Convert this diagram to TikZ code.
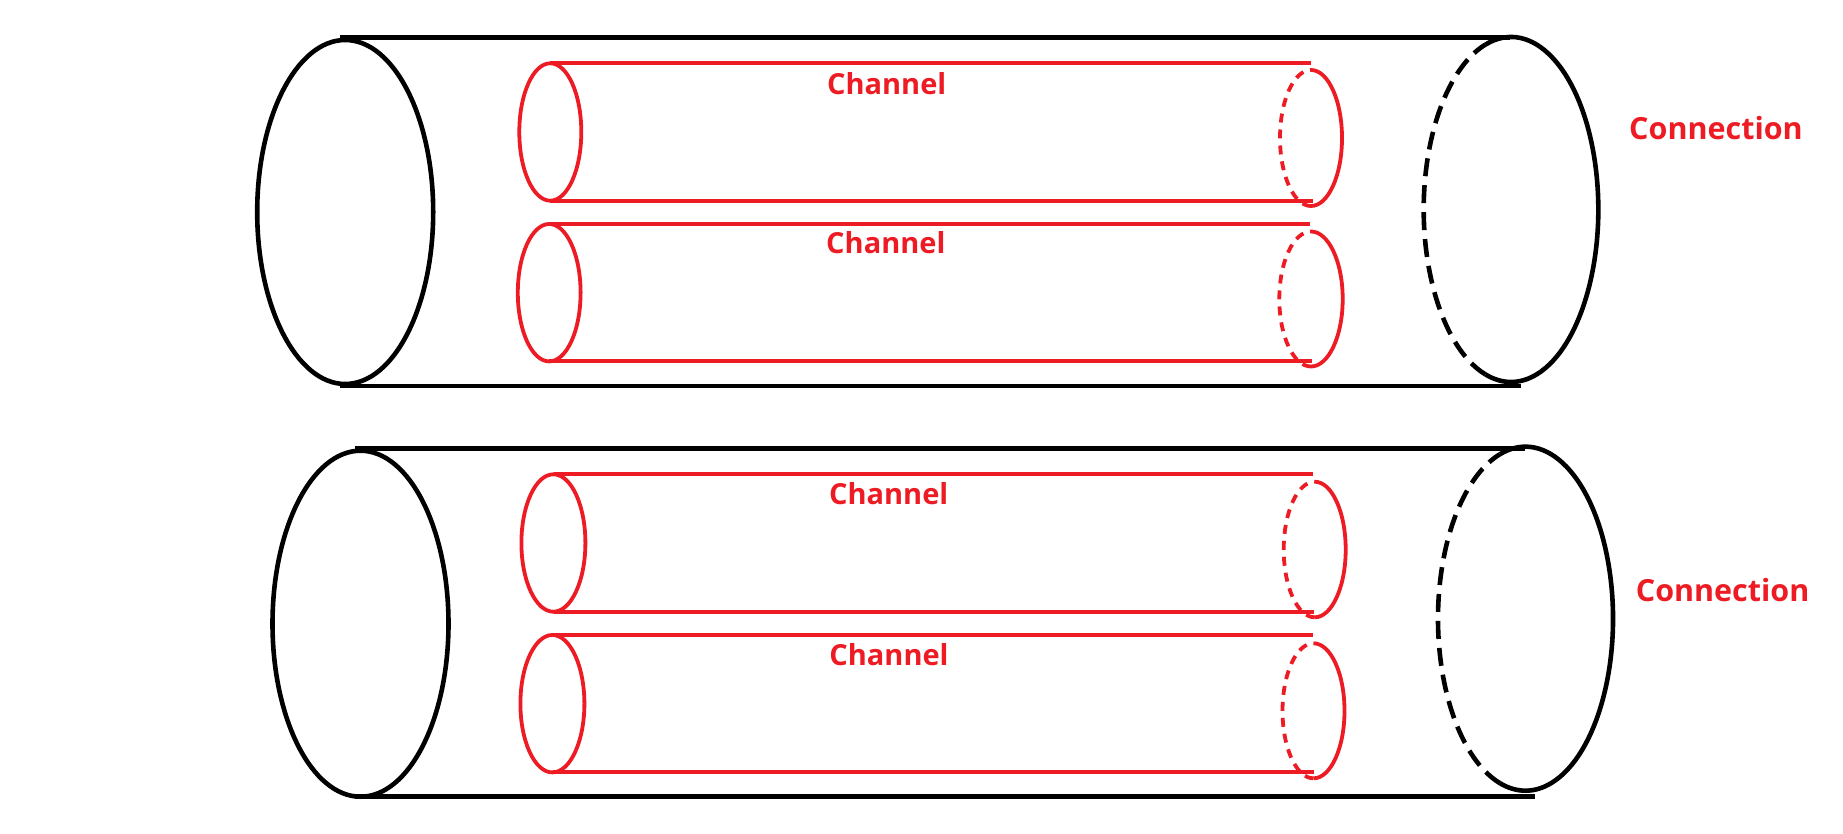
\documentclass[tikz,border=0pt]{standalone}
\usepackage{fontspec}
\setmainfont{Open Sans}
\definecolor{pred}{HTML}{ED1C24}
\tikzset{
  outer/.style={draw=black, line width=4.6pt},
  outerdash/.style={draw=black, line width=4.6pt, dash pattern=on 18pt off 9pt},
  inner/.style={draw=pred, line width=3.8pt},
  innerdash/.style={draw=pred, line width=3.8pt, dash pattern=on 9pt off 7pt},
  lbl/.style={text=pred, font=\bfseries\fontsize{29}{32}\selectfont, inner sep=0pt, anchor=base},
  biglbl/.style={lbl, font=\bfseries\fontsize{30.5}{34}\selectfont}
}
\begin{document}
\begin{tikzpicture}[x=1pt,y=-1pt]
\useasboundingbox (0,0) rectangle (1843,834);

% ---------- top connection ----------
\draw[outer] (345.2,212) ellipse [x radius=88, y radius=172];
\draw[outer] (340.3,37.5) -- (1510,37.5);
\draw[outer] (340.3,386) -- (1520.7,386);
\draw[outer] (1511,209.5) ++(-107:87.3 and 172.5) arc[start angle=-107, end angle=107, x radius=87.3, y radius=172.5];
\draw[outerdash] (1511,209.5) ++(107:87.3 and 172.5) arc[start angle=107, end angle=253, x radius=87.3, y radius=172.5];

% channel 1
\draw[inner] (550.3,132) ellipse [x radius=31, y radius=68.7];
\draw[inner] (550,63.3) -- (1311,63.3);
\draw[inner] (550,200.7) -- (1313,200.7);
\draw[inner] (1311,138) ++(-90:31 and 68) arc[start angle=-90, end angle=90, x radius=31, y radius=68];
\draw[innerdash] (1311,138) ++(90:31 and 68) arc[start angle=90, end angle=270, x radius=31, y radius=68];
% channel 2
\draw[inner] (549.2,292.7) ellipse [x radius=31.4, y radius=68.7];
\draw[inner] (549,224) -- (1310,224);
\draw[inner] (549,361.3) -- (1312,361.3);
\draw[inner] (1311,299) ++(-90:31.7 and 67.5) arc[start angle=-90, end angle=90, x radius=31.7, y radius=67.5];
\draw[innerdash] (1311,299) ++(90:31.7 and 67.5) arc[start angle=90, end angle=270, x radius=31.7, y radius=67.5];

\node[lbl] (ch1) at (886.7,94.3) {Channel};
\node[lbl] (ch2) at (885.8,254) {Channel};
\node[biglbl] (con1) at (1716,140) {Connection};

% ---------- bottom connection ----------
\draw[outer] (360.5,623.7) ellipse [x radius=88, y radius=173];
\draw[outer] (354.8,448.3) -- (1525,448.3);
\draw[outer] (354.8,796.7) -- (1535.4,796.7);
\draw[outer] (1525.5,618.7) ++(-107:87.5 and 172) arc[start angle=-107, end angle=107, x radius=87.5, y radius=172];
\draw[outerdash] (1525.5,618.7) ++(107:87.5 and 172) arc[start angle=107, end angle=253, x radius=87.5, y radius=172];

% channel 3
\draw[inner] (553.4,543) ellipse [x radius=32, y radius=68.7];
\draw[inner] (553.5,474.3) -- (1313,474.3);
\draw[inner] (553.5,611.7) -- (1314,611.7);
\draw[inner] (1314.7,549.5) ++(-90:31 and 67.8) arc[start angle=-90, end angle=90, x radius=31, y radius=67.8];
\draw[innerdash] (1314.7,549.5) ++(90:31 and 67.8) arc[start angle=90, end angle=270, x radius=31, y radius=67.8];
% channel 4
\draw[inner] (552.4,703.7) ellipse [x radius=32, y radius=68.7];
\draw[inner] (552.5,635) -- (1313,635);
\draw[inner] (552.5,772.3) -- (1314,772.3);
\draw[inner] (1313.5,710.8) ++(-90:31 and 67.5) arc[start angle=-90, end angle=90, x radius=31, y radius=67.5];
\draw[innerdash] (1313.5,710.8) ++(90:31 and 67.5) arc[start angle=90, end angle=270, x radius=31, y radius=67.5];

\node[lbl] (ch3) at (888.7,504.3) {Channel};
\node[lbl] (ch4) at (889,665) {Channel};
\node[biglbl] (con2) at (1722.6,601.7) {Connection};
\end{tikzpicture}
\end{document}
